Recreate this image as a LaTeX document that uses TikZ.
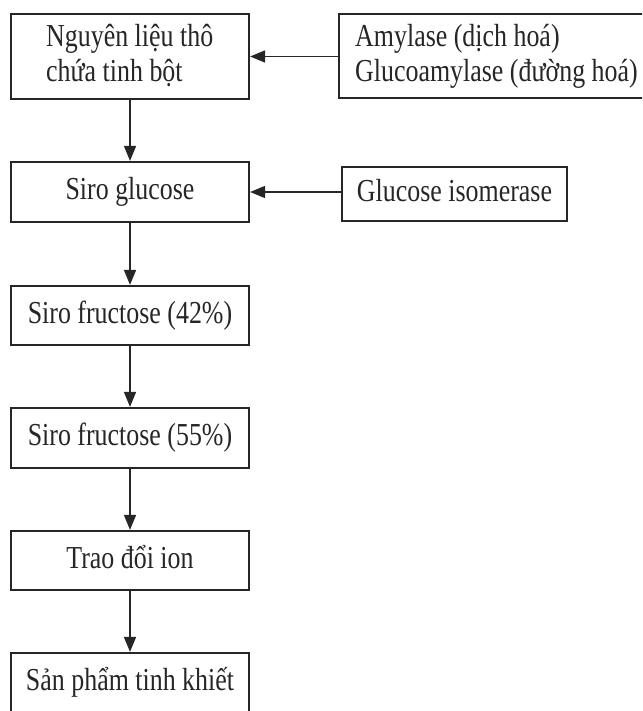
\documentclass[tikz,border=0pt]{standalone}
\usepackage{fontspec}
\setmainfont{Liberation Serif}[FakeStretch=0.81]
\usetikzlibrary{arrows.meta}
\begin{document}
\begin{tikzpicture}[x=1pt,y=-1pt,
  box/.style={draw=black!85, line width=2.2pt, rectangle, inner sep=0pt},
  txt/.style={font=\fontsize{32}{35}\selectfont, inner sep=0pt, text=black!85},
  one/.style={box, txt, text height=22pt, text depth=7pt},
  flow/.style={draw=black!85, line width=1.5pt, -{Triangle[length=15pt,width=12pt]}}]
\useasboundingbox (0,0) rectangle (642,711);
\clip (0,0) rectangle (642,711);
% left column
\node[box, minimum width=238, minimum height=85] (b1) at (130,56.5) {};
\node[txt, align=left, anchor=base west] (t1) at (46,82) {Nguyên liệu thô\\chứa tinh bột};
\node[one, minimum width=238, minimum height=60] (b2) at (130,192) {Siro glucose};
\node[one, minimum width=238, minimum height=59] (b3) at (130,315.5) {Siro fructose (42\%)};
\node[one, minimum width=238, minimum height=60] (b4) at (130,438) {Siro fructose (55\%)};
\node[one, minimum width=238, minimum height=59] (b5) at (130,560.5) {Trao đổi ion};
\node[one, minimum width=238, minimum height=60] (b6) at (130,683) {Sản phẩm tinh khiết};
% right column
\node[box, minimum width=306, minimum height=84] (r1) at (492,56) {};
\node[txt, align=left, anchor=base west] (t2) at (355,82) {Amylase (dịch hoá)\\Glucoamylase (đường hoá)};
\node[one, minimum width=225, minimum height=54] (r2) at (454.5,194) {Glucose isomerase};
% connectors
\draw[flow] (b1) -- (b2);
\draw[flow] (b2) -- (b3);
\draw[flow] (b3) -- (b4);
\draw[flow] (b4) -- (b5);
\draw[flow] (b5) -- (b6);
\draw[flow] (r1.west |- b1.east) -- (b1.east);
\draw[flow] (r2.west |- b2.east) -- (b2.east);
\end{tikzpicture}
\end{document}
